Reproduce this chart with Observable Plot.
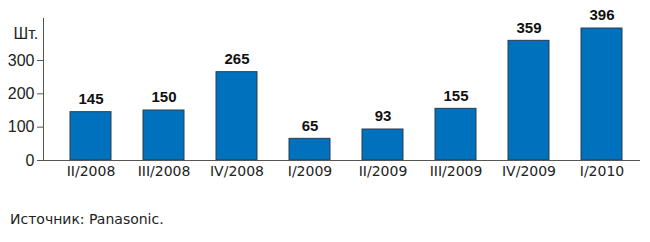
<!DOCTYPE html>
<html><head><meta charset="utf-8">
<script src="https://cdn.jsdelivr.net/npm/d3@7"></script>
<script src="https://cdn.jsdelivr.net/npm/@observablehq/plot@0.6"></script>
<style>
body{margin:0;background:#fff;font-family:"Liberation Sans",Arial,sans-serif;}
#caption{font-family:"DejaVu Sans",sans-serif;font-size:14px;color:#222;margin:21px 0 0 10px;}
</style></head>
<body><div id="chart"></div><div id="caption">Источник: Panasonic.</div>
<script>
const quarters = ["II/2008","III/2008","IV/2008","I/2009","II/2009","III/2009","IV/2009","I/2010"];
const values = [145,150,265,65,93,155,359,396];
const yTicks = [0,100,200,300];
const unitLabel = ["Шт."];
const data = quarters.map((q,i)=>({q, v: values[i]}));
const chart = Plot.plot({
  width: 650, height: 190,
  marginLeft: 43, marginRight: 10, marginTop: 18, marginBottom: 30,
  style: {fontFamily: '"Liberation Sans",Arial,sans-serif', fontSize: "14px", color: "#222"},
  x: {domain: quarters, paddingInner: 0.44, paddingOuter: 0.289, align: 0.59, label: null},
  y: {domain: [0, 426], ticks: yTicks, label: null},
  marks: [
    Plot.barY(data, {x: "q", y: "v", fill: "#0071bc", stroke: "#2a3d52", strokeWidth: 1}),
    Plot.text(data, {x: "q", y: "v", text: d => String(d.v), dy: -13, fontWeight: "bold", fontSize: 15, fill: "#111"}),
    Plot.axisX({tickSize: 0, tickPadding: 6, fontSize: 14, fontFamily: '"DejaVu Sans",sans-serif', fill: "#222", label: null}),
    Plot.axisY({ticks: yTicks, tickSize: 6, tickPadding: 3, fontSize: 16, fill: "#222", stroke: "#555", label: null}),
    Plot.frame({anchor: "left", stroke: "#555"}),
    Plot.text(unitLabel, {frameAnchor: "top-left", dx: -30, dy: 9, textAnchor: "start", fontSize: 16, fill: "#222"}),
    Plot.ruleY([0], {stroke: "#555"})
  ]
});
document.getElementById("chart").appendChild(chart);
</script></body></html>
